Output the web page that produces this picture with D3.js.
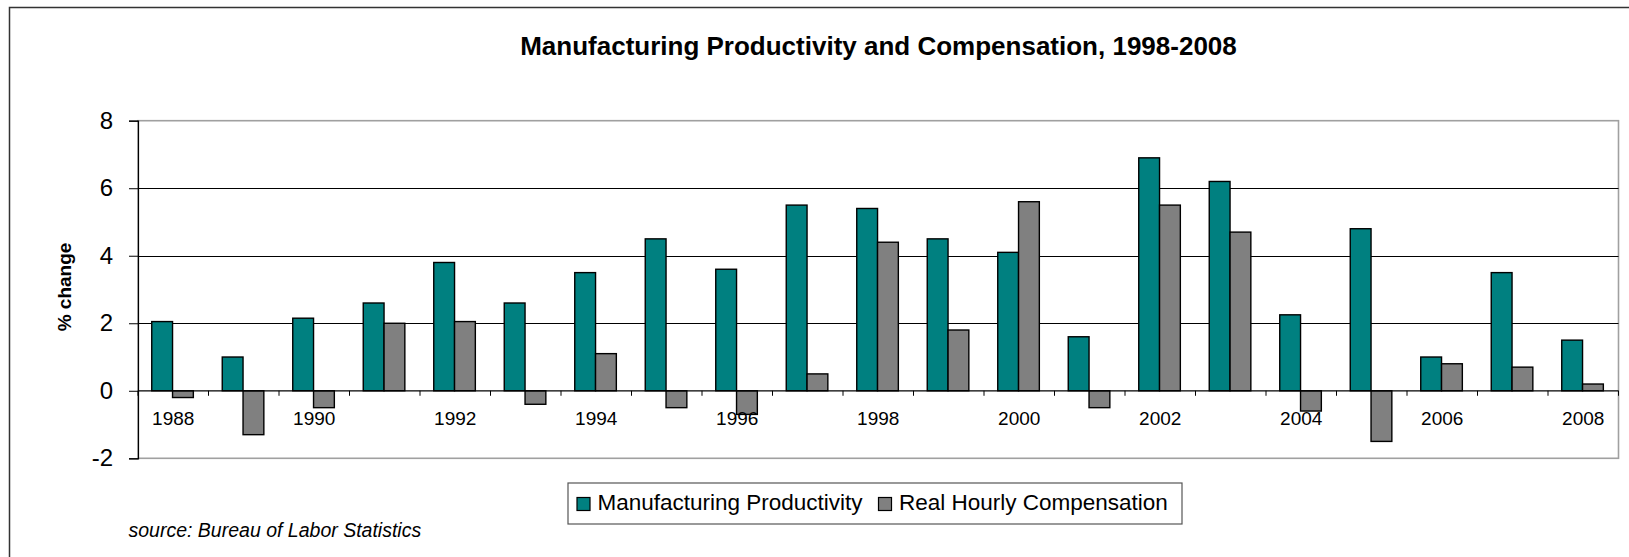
<!DOCTYPE html>
<html>
<head>
<meta charset="utf-8">
<script src="https://cdn.jsdelivr.net/npm/d3@7"></script>
<style>
  html, body { margin: 0; padding: 0; background: #fff; }
  svg { display: block; }
  text { font-family: "Liberation Sans", Arial, sans-serif; }
</style>
</head>
<body>
<svg id="chart" width="1629" height="557"></svg>
<script>
// ---- data ----
const years = ["1988","1989","1990","1991","1992","1993","1994","1995","1996","1997","1998",
               "1999","2000","2001","2002","2003","2004","2005","2006","2007","2008"];
const productivity = [2.05, 1.0, 2.15, 2.6, 3.8, 2.6, 3.5, 4.5, 3.6, 5.5, 5.4,
                      4.5, 4.1, 1.6, 6.9, 6.2, 2.25, 4.8, 1.0, 3.5, 1.5];
const compensation = [-0.2, -1.3, -0.5, 2.0, 2.05, -0.4, 1.1, -0.5, -0.7, 0.5, 4.4,
                      1.8, 5.6, -0.5, 5.5, 4.7, -0.6, -1.5, 0.8, 0.7, 0.2];
const seriesNames = ["Manufacturing Productivity", "Real Hourly Compensation"];
const seriesColors = ["#008080", "#808080"];
const yTicks = [-2, 0, 2, 4, 6, 8];
const xTickLabels = ["1988","1990","1992","1994","1996","1998","2000","2002","2004","2006","2008"];
const titleText = "Manufacturing Productivity and Compensation, 1998-2008";
const yAxisTitle = "% change";
const sourceText = "source: Bureau of Labor Statistics";

// ---- layout ----
const svg = d3.select("#chart");
const plot = { left: 138, right: 1618.5, top: 120.7, bottom: 458.3 };

const x0 = d3.scaleBand().domain(years).range([plot.left, plot.right]).padding(0);
const bw = x0.bandwidth();
const x1 = d3.scaleBand().domain(seriesNames).range([bw * 0.195, bw * 0.785]).padding(0);
const y = d3.scaleLinear().domain([-2, 8]).range([plot.bottom, plot.top]);

// outer frame
svg.append("rect")
  .attr("x", 9.5).attr("y", 7.5).attr("width", 1700).attr("height", 700)
  .attr("fill", "#fff").attr("stroke", "#333").attr("stroke-width", 1.5);

// title
svg.append("text")
  .attr("x", 878.5).attr("y", 55)
  .attr("text-anchor", "middle")
  .attr("font-size", 26).attr("font-weight", "bold").attr("fill", "#000")
  .text(titleText);

// plot area border (gray)
svg.append("rect")
  .attr("x", plot.left).attr("y", plot.top)
  .attr("width", plot.right - plot.left).attr("height", plot.bottom - plot.top)
  .attr("fill", "none").attr("stroke", "#a0a0a0").attr("stroke-width", 1.6);

// gridlines
svg.append("g").selectAll("line")
  .data(yTicks.filter(d => d !== -2 && d !== 8 && d !== 0))
  .join("line")
  .attr("x1", plot.left).attr("x2", plot.right)
  .attr("y1", d => Math.round(y(d)) + 0.5).attr("y2", d => Math.round(y(d)) + 0.5)
  .attr("stroke", "#000").attr("stroke-width", 1);

// y axis
const yAxis = d3.axisLeft(y).tickValues(yTicks).tickSize(9).tickPadding(16).tickFormat(d => String(d));
const gy = svg.append("g").attr("transform", `translate(${plot.left},0)`).call(yAxis);
gy.select(".domain").attr("stroke", "#000").attr("stroke-width", 1.2);
gy.selectAll(".tick line").attr("stroke", "#000");
gy.selectAll(".tick text")
  .attr("font-size", 24).attr("fill", "#000")
  .attr("font-family", "'Liberation Sans', Arial, sans-serif");

// y axis title
svg.append("text")
  .attr("transform", `translate(71,287) rotate(-90)`)
  .attr("text-anchor", "middle")
  .attr("font-size", 19).attr("font-weight", "bold").attr("fill", "#000")
  .text(yAxisTitle);

// bars
const groups = svg.append("g").selectAll("g")
  .data(years.map((yr, i) => ({ yr, vals: [productivity[i], compensation[i]] })))
  .join("g")
  .attr("transform", d => `translate(${x0(d.yr)},0)`);

groups.selectAll("rect")
  .data(d => d.vals.map((v, j) => ({ v, s: seriesNames[j], c: seriesColors[j] })))
  .join("rect")
  .attr("x", d => x1(d.s))
  .attr("width", x1.bandwidth())
  .attr("y", d => y(Math.max(0, d.v)))
  .attr("height", d => Math.abs(y(d.v) - y(0)))
  .attr("fill", d => d.c)
  .attr("stroke", "#000").attr("stroke-width", 1.4);

// zero axis line + tick marks at category boundaries
const zeroY = y(0);
svg.append("line")
  .attr("x1", plot.left).attr("x2", plot.right)
  .attr("y1", zeroY).attr("y2", zeroY)
  .attr("stroke", "#000").attr("stroke-width", 1.2);
const boundaries = years.map(yr => x0(yr)).concat([x0(years[years.length - 1]) + bw]);
svg.append("g").selectAll("line")
  .data(boundaries)
  .join("line")
  .attr("x1", d => d).attr("x2", d => d)
  .attr("y1", zeroY).attr("y2", zeroY + 5)
  .attr("stroke", "#000").attr("stroke-width", 1);

// x labels
svg.append("g").selectAll("text")
  .data(xTickLabels)
  .join("text")
  .attr("x", d => x0(d) + bw / 2)
  .attr("y", 424.5)
  .attr("text-anchor", "middle")
  .attr("font-size", 19).attr("fill", "#000")
  .text(d => d);

// legend
const lg = svg.append("g");
lg.append("rect")
  .attr("x", 568).attr("y", 483).attr("width", 614).attr("height", 41)
  .attr("fill", "#fff").attr("stroke", "#555").attr("stroke-width", 1.2);
const legendItems = [
  { name: seriesNames[0], color: seriesColors[0], sx: 577, tx: 597.5 },
  { name: seriesNames[1], color: seriesColors[1], sx: 878.5, tx: 899 }
];
legendItems.forEach(it => {
  lg.append("rect")
    .attr("x", it.sx).attr("y", 497.5).attr("width", 13).attr("height", 13)
    .attr("fill", it.color).attr("stroke", "#000").attr("stroke-width", 1.2);
  lg.append("text")
    .attr("x", it.tx).attr("y", 509.5)
    .attr("font-size", 22.5).attr("fill", "#000")
    .text(it.name);
});

// source
svg.append("text")
  .attr("x", 128.5).attr("y", 536.5)
  .attr("font-size", 19.5).attr("font-style", "italic").attr("fill", "#000")
  .text(sourceText);
</script>
</body>
</html>
